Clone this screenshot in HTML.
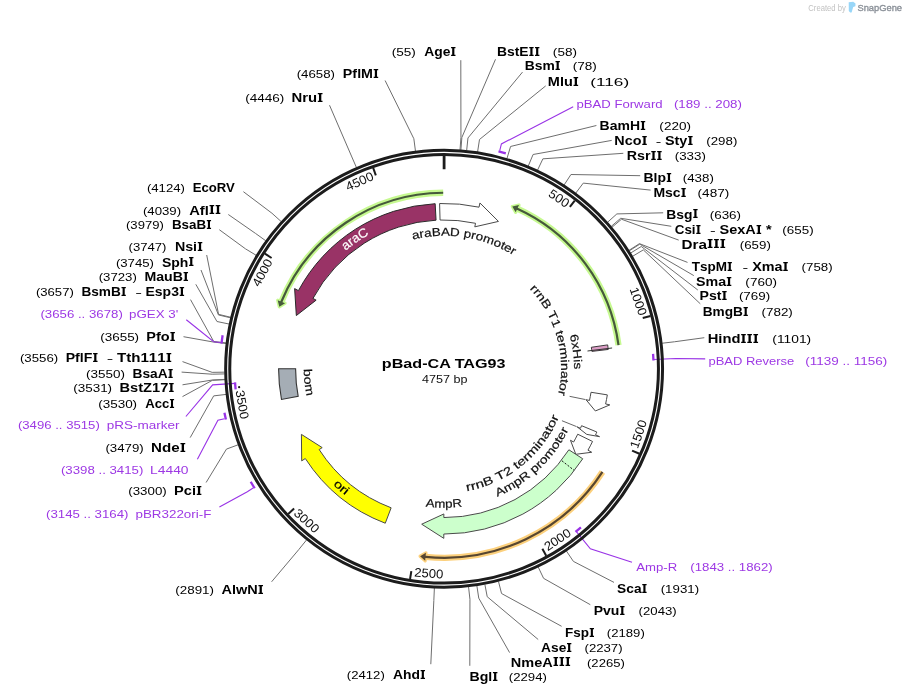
<!DOCTYPE html>
<html><head><meta charset="utf-8"><style>
html,body{margin:0;padding:0;background:#fff;}
svg{display:block;font-family:"Liberation Sans",sans-serif;will-change:transform;}
</style></head><body>
<svg width="906" height="696" viewBox="0 0 906 696">
<rect width="906" height="696" fill="#fff"/>
<line x1="444.1" y1="155.75" x2="444.1" y2="169.25" stroke="#1c1c1c" stroke-width="2.8"/>
<line x1="574.76" y1="200.54" x2="569.86" y2="206.85" stroke="#1c1c1c" stroke-width="2"/>
<g transform="translate(556.66,201.86) rotate(34)"><text x="0" y="0" text-anchor="middle" font-size="12.5" fill="#111" textLength="21.84" lengthAdjust="spacingAndGlyphs">500</text></g>
<line x1="650.48" y1="316.06" x2="642.73" y2="318.04" stroke="#1c1c1c" stroke-width="2"/>
<g transform="translate(634.25,302.68) rotate(70.84)"><text x="0" y="0" text-anchor="middle" font-size="12.5" fill="#111" textLength="29.12" lengthAdjust="spacingAndGlyphs">1000</text></g>
<line x1="639.41" y1="453.74" x2="632.07" y2="450.55" stroke="#1c1c1c" stroke-width="2"/>
<g transform="translate(642.48,435.47) rotate(-71.41)"><text x="0" y="0" text-anchor="middle" font-size="12.5" fill="#111" textLength="29.12" lengthAdjust="spacingAndGlyphs">1500</text></g>
<line x1="546.21" y1="555.68" x2="542.37" y2="548.66" stroke="#1c1c1c" stroke-width="2"/>
<g transform="translate(559.84,543.14) rotate(-33.57)"><text x="0" y="0" text-anchor="middle" font-size="12.5" fill="#111" textLength="29.12" lengthAdjust="spacingAndGlyphs">2000</text></g>
<line x1="410.06" y1="579.01" x2="411.34" y2="571.12" stroke="#1c1c1c" stroke-width="2"/>
<g transform="translate(428.53,577.47) rotate(4.27)"><text x="0" y="0" text-anchor="middle" font-size="12.5" fill="#111" textLength="29.12" lengthAdjust="spacingAndGlyphs">2500</text></g>
<line x1="288.24" y1="513.92" x2="294.09" y2="508.47" stroke="#1c1c1c" stroke-width="2"/>
<g transform="translate(303.76,524.03) rotate(42.11)"><text x="0" y="0" text-anchor="middle" font-size="12.5" fill="#111" textLength="29.12" lengthAdjust="spacingAndGlyphs">3000</text></g>
<circle cx="239.12" cy="387.14" r="1.1" fill="#1c1c1c"/>
<g transform="translate(238.01,405.29) rotate(79.95)"><text x="0" y="0" text-anchor="middle" font-size="12.5" fill="#111" textLength="29.12" lengthAdjust="spacingAndGlyphs">3500</text></g>
<line x1="264.88" y1="253.64" x2="271.61" y2="257.97" stroke="#1c1c1c" stroke-width="2"/>
<g transform="translate(266.15,274.64) rotate(-62.13)"><text x="0" y="0" text-anchor="middle" font-size="12.5" fill="#111" textLength="29.12" lengthAdjust="spacingAndGlyphs">4000</text></g>
<line x1="373.18" y1="167.9" x2="375.84" y2="175.45" stroke="#1c1c1c" stroke-width="2"/>
<g transform="translate(361.3,185.27) rotate(-24.29)"><text x="0" y="0" text-anchor="middle" font-size="12.5" fill="#111" textLength="29.12" lengthAdjust="spacingAndGlyphs">4500</text></g>
<path d="M443.18,192.75A176,176 0 0 0 281.37,301.71" fill="none" stroke="#c6f990" stroke-width="6.3" stroke-linecap="butt"/>
<path d="M285.07,303.23L279.35,306.83L277.67,300.18Z" fill="#c6f990" stroke="#c6f990" stroke-width="3.2" stroke-linejoin="round"/>
<path d="M443.18,192.75A176,176 0 0 0 281.37,301.71L280.34,304.26" fill="none" stroke="#46593b" stroke-width="2.2"/>
<path d="M285.07,303.23L279.35,306.83L277.67,300.18Z" fill="#46593b" stroke="none"/>
<path d="M618.51,345.17A176,176 0 0 0 517.34,208.71" fill="none" stroke="#c6f990" stroke-width="6.3" stroke-linecap="butt"/>
<path d="M515.67,212.35L512.3,206.5L519,205.08Z" fill="#c6f990" stroke="#c6f990" stroke-width="3.2" stroke-linejoin="round"/>
<path d="M618.51,345.17A176,176 0 0 0 517.34,208.71L514.83,207.59" fill="none" stroke="#46593b" stroke-width="2.2"/>
<path d="M515.67,212.35L512.3,206.5L519,205.08Z" fill="#46593b" stroke="none"/>
<path d="M602.43,471.96A189,189 0 0 1 425.55,556.84" fill="none" stroke="#fcd07c" stroke-width="6.3" stroke-linecap="butt"/>
<path d="M425.94,552.86L420.08,556.22L425.16,560.82Z" fill="#fcd07c" stroke="#fcd07c" stroke-width="3.2" stroke-linejoin="round"/>
<path d="M602.43,471.96A189,189 0 0 1 425.55,556.84L422.81,556.55" fill="none" stroke="#574630" stroke-width="2.2"/>
<path d="M425.94,552.86L420.08,556.22L425.16,560.82Z" fill="#574630" stroke="none"/>
<path d="M435.16,203.69A165.3,165.3 0 0 0 298.42,290.64L294.63,288.61L296.33,315.55L316.13,300.14L312.96,298.43A148.8,148.8 0 0 1 436.05,220.17Z" fill="#993366" stroke="#2a2a2a" stroke-width="1" stroke-linejoin="miter"/>
<path d="M439.6,203.51A165.3,165.3 0 0 1 479.03,207.18L479.94,202.98L498.46,221.41L474.78,226.83L475.55,223.31A148.8,148.8 0 0 0 440.05,220.01Z" fill="#fff" stroke="#4a4a4a" stroke-width="1" stroke-linejoin="miter"/>
<path d="M607.32,394.89A165.3,165.3 0 0 1 605.61,403.96L609.81,404.88L595.36,410.98L585.97,399.68L589.48,400.45A148.8,148.8 0 0 0 591.03,392.28Z" fill="#fff" stroke="#4a4a4a" stroke-width="1" stroke-linejoin="miter"/>
<path d="M596.82,432.01A165.3,165.3 0 0 1 595.57,434.93L599.52,436.65L586.78,434.38L577.16,426.88L580.45,428.32A148.8,148.8 0 0 0 581.57,425.69Z" fill="#fff" stroke="#4a4a4a" stroke-width="1" stroke-linejoin="miter"/>
<path d="M592.54,441.47A165.3,165.3 0 0 1 587.97,450.15L591.71,452.27L575.81,454.29L570.48,440.25L573.61,442.02A148.8,148.8 0 0 0 577.73,434.21Z" fill="#fff" stroke="#4a4a4a" stroke-width="1" stroke-linejoin="miter"/>
<path d="M582.73,458.78A165.3,165.3 0 0 1 443.81,534.05L443.8,538.35L421.7,524.19L443.85,513.95L443.84,517.55A148.8,148.8 0 0 0 568.89,449.79Z" fill="#ccffcc" stroke="#4a4a4a" stroke-width="1" stroke-linejoin="miter"/>
<line x1="561.91" y1="460.79" x2="574.12" y2="470.33" stroke="#111" stroke-width="1" stroke-dasharray="2,1.6"/>
<path d="M385.27,523.23A165.3,165.3 0 0 1 305.31,458.54L301.7,460.87L301.42,434.38L322.19,447.62L319.16,449.57A148.8,148.8 0 0 0 391.14,507.81Z" fill="#ffff00" stroke="#4a4a4a" stroke-width="1" stroke-linejoin="miter"/>
<path d="M281.48,399.48A165.5,165.5 0 0 1 278.6,368.75L295.6,368.75A148.5,148.5 0 0 0 298.18,396.32Z" fill="#a5adb5" stroke="#333" stroke-width="1.1" stroke-linejoin="miter"/>
<path d="M607.67,344.89A165.3,165.3 0 0 1 608.27,349.46L591.88,351.39A148.8,148.8 0 0 0 591.34,347.27Z" fill="#dc9ec6" stroke="#2a2a2a" stroke-width="0.9" stroke-linejoin="miter"/>
<line x1="587.51" y1="351.01" x2="612.12" y2="347.97" stroke="#333" stroke-width="1"/>
<polyline points="569.6,396.34 585.38,399.55" fill="none" stroke="#666" stroke-width="1"/>
<polyline points="561.95,420.73 576.61,426.64" fill="none" stroke="#666" stroke-width="1"/>
<path id="cp0" d="M311.4,291.2A153.7,153.7 0 0 1 419,217.11" fill="none" stroke="none"/>
<text font-size="12.8" font-weight="normal" fill="#fff" stroke="#fff" stroke-width="0.2"><textPath href="#cp0" startOffset="53.12" textLength="28.66" lengthAdjust="spacingAndGlyphs">araC</textPath></text>
<path id="cp1" d="M370.89,257.72A133,133 0 0 1 547.9,285.59" fill="none" stroke="none"/>
<text font-size="11.5" font-weight="normal" fill="#111" stroke="#111" stroke-width="0.2"><textPath href="#cp1" startOffset="45.89" textLength="104.52" lengthAdjust="spacingAndGlyphs">araBAD promoter</textPath></text>
<path id="cp2" d="M497.76,264.78A117,117 0 0 1 542.45,432.13" fill="none" stroke="none"/>
<text font-size="11.5" font-weight="normal" fill="#111" stroke="#111" stroke-width="0.2"><textPath href="#cp2" startOffset="39.92" textLength="114.47" lengthAdjust="spacingAndGlyphs">rrnB T1 terminator</textPath></text>
<path id="cp3" d="M551.11,294.93A130,130 0 0 1 566.26,413.21" fill="none" stroke="none"/>
<text font-size="11.5" font-weight="normal" fill="#111" stroke="#111" stroke-width="0.2"><textPath href="#cp3" startOffset="44.69" textLength="34.3" lengthAdjust="spacingAndGlyphs">6xHis</textPath></text>
<path id="cp4" d="M424.62,491.72A124.5,124.5 0 0 0 568.44,375.05" fill="none" stroke="none"/>
<text font-size="11.5" font-weight="normal" fill="#111" stroke="#111" stroke-width="0.2"><textPath href="#cp4" startOffset="42.47" textLength="123.13" lengthAdjust="spacingAndGlyphs">rrnB T2 terminator</textPath></text>
<path id="cp5" d="M450.38,507.11A138.5,138.5 0 0 0 581.79,383.71" fill="none" stroke="none"/>
<text font-size="11.5" font-weight="normal" fill="#111" stroke="#111" stroke-width="0.2"><textPath href="#cp5" startOffset="48.35" textLength="99.85" lengthAdjust="spacingAndGlyphs">AmpR promoter</textPath></text>
<path id="cp6" d="M379.49,491.82A139,139 0 0 0 507.64,492.38" fill="none" stroke="none"/>
<text font-size="11.5" font-weight="normal" fill="#111" stroke="#111" stroke-width="0.2"><textPath href="#cp6" startOffset="48.52" textLength="36.79" lengthAdjust="spacingAndGlyphs">AmpR</textPath></text>
<path id="cp7" d="M300.4,440.24A160.5,160.5 0 0 0 393.7,521.13" fill="none" stroke="none"/>
<text font-size="11.5" font-weight="normal" fill="#000" stroke="#000" stroke-width="0.2"><textPath href="#cp7" startOffset="55.44" textLength="16.26" lengthAdjust="spacingAndGlyphs">ori</textPath></text>
<path id="cp8" d="M311.94,321.95A140.2,140.2 0 0 0 323.8,440.75" fill="none" stroke="none"/>
<text font-size="11.5" font-weight="normal" fill="#111" stroke="#111" stroke-width="0.2"><textPath href="#cp8" startOffset="48.03" textLength="27.28" lengthAdjust="spacingAndGlyphs">bom</textPath></text>
<polyline points="415.48,151.12 413.85,138.73 385.1,80.5" fill="none" stroke="#6e6e6e" stroke-width="1"/>
<polyline points="356.45,167.51 351.46,156.05 329.5,105.2" fill="none" stroke="#6e6e6e" stroke-width="1"/>
<polyline points="460.03,149.83 460.94,137.36 460.8,60.2" fill="none" stroke="#6e6e6e" stroke-width="1"/>
<polyline points="281.23,221.6 271.95,213.22 243.4,191.7" fill="none" stroke="#6e6e6e" stroke-width="1"/>
<polyline points="265.77,240.78 255.61,233.49 228.3,214.5" fill="none" stroke="#6e6e6e" stroke-width="1"/>
<polyline points="256.19,255.3 245.49,248.84 219.3,229.7" fill="none" stroke="#6e6e6e" stroke-width="1"/>
<polyline points="230.72,317.27 218.57,314.33 206.7,255" fill="none" stroke="#6e6e6e" stroke-width="1"/>
<polyline points="230.59,317.83 218.43,314.93 201,270" fill="none" stroke="#6e6e6e" stroke-width="1"/>
<polyline points="229.2,324.05 216.96,321.51 195.8,284.3" fill="none" stroke="#6e6e6e" stroke-width="1"/>
<polyline points="226.12,342.93 213.71,341.46 190.5,299.6" fill="none" stroke="#6e6e6e" stroke-width="1"/>
<polyline points="226.06,343.51 213.64,342.07 183.5,336.7" fill="none" stroke="#6e6e6e" stroke-width="1"/>
<polyline points="224.63,372.16 212.13,372.35 182.5,361.6" fill="none" stroke="#6e6e6e" stroke-width="1"/>
<polyline points="224.66,373.9 212.16,374.19 181.6,372.1" fill="none" stroke="#6e6e6e" stroke-width="1"/>
<polyline points="224.86,379.4 212.37,380.01 182.5,384.8" fill="none" stroke="#6e6e6e" stroke-width="1"/>
<polyline points="224.87,379.69 212.39,380.31 182.5,396.6" fill="none" stroke="#6e6e6e" stroke-width="1"/>
<polyline points="226.11,394.42 213.69,395.88 190.2,437.6" fill="none" stroke="#6e6e6e" stroke-width="1"/>
<polyline points="238.18,444.77 226.46,449.1 206.1,482.5" fill="none" stroke="#6e6e6e" stroke-width="1"/>
<polyline points="306.61,539.85 298.78,549.59 271.6,581.8" fill="none" stroke="#6e6e6e" stroke-width="1"/>
<polyline points="434.39,588.04 433.84,600.52 430.8,664.2" fill="none" stroke="#6e6e6e" stroke-width="1"/>
<polyline points="460.9,149.89 461.86,137.43 495.5,59.3" fill="none" stroke="#6e6e6e" stroke-width="1"/>
<polyline points="466.67,150.41 467.96,137.98 522.5,72.1" fill="none" stroke="#6e6e6e" stroke-width="1"/>
<polyline points="477.6,151.82 479.51,139.47 545.7,85.9" fill="none" stroke="#6e6e6e" stroke-width="1"/>
<polyline points="506.99,158.45 510.57,146.48 596.4,125.5" fill="none" stroke="#6e6e6e" stroke-width="1"/>
<polyline points="528.28,166.03 533.08,154.49 611.7,140.4" fill="none" stroke="#6e6e6e" stroke-width="1"/>
<polyline points="537.56,170.14 542.88,158.83 623.3,153.3" fill="none" stroke="#6e6e6e" stroke-width="1"/>
<polyline points="564.12,184.97 570.95,174.5 640.2,175.7" fill="none" stroke="#6e6e6e" stroke-width="1"/>
<polyline points="575.75,193.12 583.25,183.11 650.6,190.1" fill="none" stroke="#6e6e6e" stroke-width="1"/>
<polyline points="607.56,222.25 616.86,213.91 663.2,212.8" fill="none" stroke="#6e6e6e" stroke-width="1"/>
<polyline points="611.18,226.4 620.7,218.29 671.3,226.3" fill="none" stroke="#6e6e6e" stroke-width="1"/>
<polyline points="611.93,227.28 621.49,219.23 678.7,240.1" fill="none" stroke="#6e6e6e" stroke-width="1"/>
<polyline points="628.94,250.37 639.47,243.63 687.5,262.4" fill="none" stroke="#6e6e6e" stroke-width="1"/>
<polyline points="629.26,250.86 639.8,244.15 693.8,275.6" fill="none" stroke="#6e6e6e" stroke-width="1"/>
<polyline points="630.64,253.07 641.27,246.48 697.8,290" fill="none" stroke="#6e6e6e" stroke-width="1"/>
<polyline points="632.6,256.29 643.34,249.89 700.3,303.8" fill="none" stroke="#6e6e6e" stroke-width="1"/>
<polyline points="662.11,343.22 674.53,341.77 704.3,337.7" fill="none" stroke="#6e6e6e" stroke-width="1"/>
<polyline points="566.42,551.01 573.38,561.39 614,582.4" fill="none" stroke="#6e6e6e" stroke-width="1"/>
<polyline points="538.22,567.05 543.58,578.34 590.3,604.7" fill="none" stroke="#6e6e6e" stroke-width="1"/>
<polyline points="498.47,581.41 501.56,593.52 561.6,626.3" fill="none" stroke="#6e6e6e" stroke-width="1"/>
<polyline points="484.89,584.43 487.21,596.71 538.2,639.5" fill="none" stroke="#6e6e6e" stroke-width="1"/>
<polyline points="476.88,585.79 478.75,598.15 509.6,652.6" fill="none" stroke="#6e6e6e" stroke-width="1"/>
<polyline points="468.55,586.88 469.94,599.31 469.8,665.8" fill="none" stroke="#6e6e6e" stroke-width="1"/>
<polyline points="499.74,150.53 501.42,143.94 573.2,106.7" fill="none" stroke="#9933e6" stroke-width="1.1"/>
<path d="M498.49,151.45A224,224 0 0 1 505.81,153.42" fill="none" stroke="#9933e6" stroke-width="2.3"/>
<polyline points="653.4,359.55 675.88,358.56 705.2,358.9" fill="none" stroke="#9933e6" stroke-width="1.1"/>
<path d="M653.08,353.94A209.5,209.5 0 0 1 653.44,360.47" fill="none" stroke="#9933e6" stroke-width="2.3"/>
<polyline points="576.19,531.36 590.38,548.82 632,562.3" fill="none" stroke="#9933e6" stroke-width="1.1"/>
<path d="M580.92,527.4A209.5,209.5 0 0 1 575.48,531.93" fill="none" stroke="#9933e6" stroke-width="2.3"/>
<polyline points="220.43,342.56 213.67,341.77 186.3,319.7" fill="none" stroke="#9933e6" stroke-width="1.1"/>
<path d="M221.51,343.67A224,224 0 0 1 222.61,335.28" fill="none" stroke="#9933e6" stroke-width="2.3"/>
<polyline points="235.11,383.33 212.66,384.9 185.9,416.5" fill="none" stroke="#9933e6" stroke-width="1.1"/>
<path d="M235.63,389.48A209.5,209.5 0 0 1 235.05,382.42" fill="none" stroke="#9933e6" stroke-width="2.3"/>
<polyline points="224.54,418.82 217.91,420.33 197.4,459.2" fill="none" stroke="#9933e6" stroke-width="1.1"/>
<path d="M225.93,419.51A224,224 0 0 1 224.45,412.68" fill="none" stroke="#9933e6" stroke-width="2.3"/>
<polyline points="253.1,488.06 247.34,491.67 219.4,507.1" fill="none" stroke="#9933e6" stroke-width="1.1"/>
<path d="M254.64,488.26A224,224 0 0 1 250.71,481.78" fill="none" stroke="#9933e6" stroke-width="2.3"/>
<circle cx="444.1" cy="368.75" r="218.45" fill="none" stroke="#1c1c1c" stroke-width="3.0"/>
<circle cx="444.1" cy="368.75" r="214.35" fill="none" stroke="#1c1c1c" stroke-width="3.0"/>
<text x="296.71" y="77.9" font-size="11.5" font-weight="normal" fill="#000" textLength="38.3" lengthAdjust="spacingAndGlyphs">(4658)</text>
<g transform="matrix(1.15,0,0,1,342.87,77.9)" fill="#000"><text x="0 8.27 12.4 15.85" y="0" font-size="12.4" font-weight="bold">PflM</text><path d="M26.8,-8.9h3.91v1.34h-0.99v6.32h0.99v1.34h-3.91v-1.34h0.99v-6.32h-0.99z"/></g>
<text x="245.19" y="101.5" font-size="11.5" font-weight="normal" fill="#000" textLength="39.03" lengthAdjust="spacingAndGlyphs">(4446)</text>
<g transform="matrix(1.2,0,0,1,291.43,101.5)" fill="#000"><text x="0 8.96 13.78" y="0" font-size="12.4" font-weight="bold">Nru</text><path d="M21.98,-8.5h3.91v1.34h-0.99v6.32h0.99v1.34h-3.91v-1.34h0.99v-6.32h-0.99z"/></g>
<text x="391.68" y="56.2" font-size="11.5" font-weight="normal" fill="#000" textLength="24.18" lengthAdjust="spacingAndGlyphs">(55)</text>
<g transform="matrix(1.12,0,0,1,424.15,56.2)" fill="#000"><text x="0 8.96 16.53" y="0" font-size="12.4" font-weight="bold">Age</text><path d="M24.05,-9.2h3.91v1.34h-0.99v6.32h0.99v1.34h-3.91v-1.34h0.99v-6.32h-0.99z"/></g>
<text x="146.91" y="191.8" font-size="11.5" font-weight="normal" fill="#000" textLength="38.09" lengthAdjust="spacingAndGlyphs">(4124)</text>
<text x="192.65" y="191.8" font-size="12.4" font-weight="bold" fill="#000" textLength="42.12" lengthAdjust="spacingAndGlyphs">EcoRV</text>
<text x="142.91" y="214.5" font-size="11.5" font-weight="normal" fill="#000" textLength="38.2" lengthAdjust="spacingAndGlyphs">(4039)</text>
<g transform="matrix(1.19,0,0,1,189.13,214.5)" fill="#000"><text x="0 8.96 13.08" y="0" font-size="12.4" font-weight="bold">Afl</text><path d="M17.15,-9.5h3.91v1.34h-0.99v6.32h0.99v1.34h-3.91v-1.34h0.99v-6.32h-0.99zM22.3,-9.5h3.91v1.34h-0.99v6.32h0.99v1.34h-3.91v-1.34h0.99v-6.32h-0.99z"/></g>
<text x="126.02" y="229.4" font-size="11.5" font-weight="normal" fill="#000" textLength="37.78" lengthAdjust="spacingAndGlyphs">(3979)</text>
<g transform="matrix(1.08,0,0,1,171.93,229.4)" fill="#000"><text x="0 8.96 15.85 22.75" y="0" font-size="12.4" font-weight="bold">BsaB</text><path d="M32.32,-9.4h3.91v1.34h-0.99v6.32h0.99v1.34h-3.91v-1.34h0.99v-6.32h-0.99z"/></g>
<text x="128.61" y="251.3" font-size="11.5" font-weight="normal" fill="#000" textLength="37.88" lengthAdjust="spacingAndGlyphs">(3747)</text>
<g transform="matrix(1.15,0,0,1,174.88,251.3)" fill="#000"><text x="0 8.96 15.85" y="0" font-size="12.4" font-weight="bold">Nsi</text><path d="M19.92,-9.3h3.91v1.34h-0.99v6.32h0.99v1.34h-3.91v-1.34h0.99v-6.32h-0.99z"/></g>
<text x="115.91" y="266.5" font-size="11.5" font-weight="normal" fill="#000" textLength="38.09" lengthAdjust="spacingAndGlyphs">(3745)</text>
<g transform="matrix(1.13,0,0,1,161.88,266.5)" fill="#000"><text x="0 8.27 15.85" y="0" font-size="12.4" font-weight="bold">Sph</text><path d="M24.04,-9.5h3.91v1.34h-0.99v6.32h0.99v1.34h-3.91v-1.34h0.99v-6.32h-0.99z"/></g>
<text x="98.71" y="281.4" font-size="11.5" font-weight="normal" fill="#000" textLength="38.09" lengthAdjust="spacingAndGlyphs">(3723)</text>
<g transform="matrix(1.14,0,0,1,144.38,281.4)" fill="#000"><text x="0 10.33 17.23 24.8" y="0" font-size="12.4" font-weight="bold">MauB</text><path d="M34.38,-9.4h3.91v1.34h-0.99v6.32h0.99v1.34h-3.91v-1.34h0.99v-6.32h-0.99z"/></g>
<text x="35.91" y="296.4" font-size="11.5" font-weight="normal" fill="#000" textLength="37.88" lengthAdjust="spacingAndGlyphs">(3657)</text>
<g transform="matrix(1.1,0,0,1,81.41,296.4)" fill="#000"><text x="0 8.96 15.85 26.88" y="0" font-size="12.4" font-weight="bold">BsmB</text><path d="M36.45,-9.4h3.91v1.34h-0.99v6.32h0.99v1.34h-3.91v-1.34h0.99v-6.32h-0.99z"/></g>
<text x="135.18" y="296.4" font-size="11.5" font-weight="normal" fill="#000" textLength="6.8" lengthAdjust="spacingAndGlyphs">-</text>
<g transform="matrix(1.13,0,0,1,145.49,296.4)" fill="#000"><text x="0 8.27 15.17 22.74" y="0" font-size="12.4" font-weight="bold">Esp3</text><path d="M30.26,-9.4h3.91v1.34h-0.99v6.32h0.99v1.34h-3.91v-1.34h0.99v-6.32h-0.99z"/></g>
<text x="100.19" y="340.8" font-size="11.5" font-weight="normal" fill="#000" textLength="38.93" lengthAdjust="spacingAndGlyphs">(3655)</text>
<g transform="matrix(1.17,0,0,1,146.25,340.8)" fill="#000"><text x="0 8.27 12.4" y="0" font-size="12.4" font-weight="bold">Pfo</text><path d="M20.6,-8.8h3.91v1.34h-0.99v6.32h0.99v1.34h-3.91v-1.34h0.99v-6.32h-0.99z"/></g>
<text x="19.91" y="362.3" font-size="11.5" font-weight="normal" fill="#000" textLength="38.3" lengthAdjust="spacingAndGlyphs">(3556)</text>
<g transform="matrix(1.14,0,0,1,65.68,362.3)" fill="#000"><text x="0 8.27 12.4 15.85" y="0" font-size="12.4" font-weight="bold">PflF</text><path d="M24.04,-9.3h3.91v1.34h-0.99v6.32h0.99v1.34h-3.91v-1.34h0.99v-6.32h-0.99z"/></g>
<text x="106.82" y="362.3" font-size="11.5" font-weight="normal" fill="#000" textLength="6.52" lengthAdjust="spacingAndGlyphs">-</text>
<g transform="matrix(1.22,0,0,1,116.95,362.3)" fill="#000"><text x="0 7.57 11.7 19.28 26.18 33.07" y="0" font-size="12.4" font-weight="bold">Tth111</text><path d="M40.59,-9.3h3.91v1.34h-0.99v6.32h0.99v1.34h-3.91v-1.34h0.99v-6.32h-0.99z"/></g>
<text x="86.09" y="378.1" font-size="11.5" font-weight="normal" fill="#000" textLength="38.93" lengthAdjust="spacingAndGlyphs">(3550)</text>
<g transform="matrix(1.11,0,0,1,132.51,378.1)" fill="#000"><text x="0 8.96 15.85 22.75" y="0" font-size="12.4" font-weight="bold">BsaA</text><path d="M32.32,-9.1h3.91v1.34h-0.99v6.32h0.99v1.34h-3.91v-1.34h0.99v-6.32h-0.99z"/></g>
<text x="73.19" y="392.4" font-size="11.5" font-weight="normal" fill="#000" textLength="38.93" lengthAdjust="spacingAndGlyphs">(3531)</text>
<g transform="matrix(1.18,0,0,1,119.55,392.4)" fill="#000"><text x="0 8.96 15.85 19.98 27.56 34.45" y="0" font-size="12.4" font-weight="bold">BstZ17</text><path d="M41.97,-9.4h3.91v1.34h-0.99v6.32h0.99v1.34h-3.91v-1.34h0.99v-6.32h-0.99z"/></g>
<text x="98.19" y="407.6" font-size="11.5" font-weight="normal" fill="#000" textLength="38.93" lengthAdjust="spacingAndGlyphs">(3530)</text>
<g transform="matrix(1.06,0,0,1,145.17,407.6)" fill="#000"><text x="0 8.96 15.85" y="0" font-size="12.4" font-weight="bold">Acc</text><path d="M23.37,-8.6h3.91v1.34h-0.99v6.32h0.99v1.34h-3.91v-1.34h0.99v-6.32h-0.99z"/></g>
<text x="105.41" y="451.5" font-size="11.5" font-weight="normal" fill="#000" textLength="38.3" lengthAdjust="spacingAndGlyphs">(3479)</text>
<g transform="matrix(1.22,0,0,1,151.12,451.5)" fill="#000"><text x="0 8.96 16.53" y="0" font-size="12.4" font-weight="bold">Nde</text><path d="M24.05,-8.5h3.91v1.34h-0.99v6.32h0.99v1.34h-3.91v-1.34h0.99v-6.32h-0.99z"/></g>
<text x="128.3" y="495.4" font-size="11.5" font-weight="normal" fill="#000" textLength="38.4" lengthAdjust="spacingAndGlyphs">(3300)</text>
<g transform="matrix(1.18,0,0,1,174.05,495.4)" fill="#000"><text x="0 8.27 15.17" y="0" font-size="12.4" font-weight="bold">Pci</text><path d="M19.23,-9.4h3.91v1.34h-0.99v6.32h0.99v1.34h-3.91v-1.34h0.99v-6.32h-0.99z"/></g>
<text x="175.3" y="594.3" font-size="11.5" font-weight="normal" fill="#000" textLength="38.72" lengthAdjust="spacingAndGlyphs">(2891)</text>
<g transform="matrix(1.17,0,0,1,221.44,594.3)" fill="#000"><text x="0 8.96 12.4 22.04" y="0" font-size="12.4" font-weight="bold">AlwN</text><path d="M31.62,-9.3h3.91v1.34h-0.99v6.32h0.99v1.34h-3.91v-1.34h0.99v-6.32h-0.99z"/></g>
<text x="346.81" y="679.2" font-size="11.5" font-weight="normal" fill="#000" textLength="37.99" lengthAdjust="spacingAndGlyphs">(2412)</text>
<g transform="matrix(1.12,0,0,1,392.95,679.2)" fill="#000"><text x="0 8.96 16.53" y="0" font-size="12.4" font-weight="bold">Ahd</text><path d="M24.72,-9.2h3.91v1.34h-0.99v6.32h0.99v1.34h-3.91v-1.34h0.99v-6.32h-0.99z"/></g>
<g transform="matrix(1.12,0,0,1,496.9,55.8)" fill="#000"><text x="0 8.96 15.85 19.98" y="0" font-size="12.4" font-weight="bold">BstE</text><path d="M28.87,-8.8h3.91v1.34h-0.99v6.32h0.99v1.34h-3.91v-1.34h0.99v-6.32h-0.99zM34.02,-8.8h3.91v1.34h-0.99v6.32h0.99v1.34h-3.91v-1.34h0.99v-6.32h-0.99z"/></g>
<text x="552.89" y="55.8" font-size="11.5" font-weight="normal" fill="#000" textLength="24.07" lengthAdjust="spacingAndGlyphs">(58)</text>
<g transform="matrix(1.12,0,0,1,524.7,70.4)" fill="#000"><text x="0 8.96 15.85" y="0" font-size="12.4" font-weight="bold">Bsm</text><path d="M27.5,-9.4h3.91v1.34h-0.99v6.32h0.99v1.34h-3.91v-1.34h0.99v-6.32h-0.99z"/></g>
<text x="572.69" y="70.4" font-size="11.5" font-weight="normal" fill="#000" textLength="24.07" lengthAdjust="spacingAndGlyphs">(78)</text>
<g transform="matrix(1.17,0,0,1,547.86,85.9)" fill="#000"><text x="0 10.33 13.77" y="0" font-size="12.4" font-weight="bold">Mlu</text><path d="M21.97,-8.9h3.91v1.34h-0.99v6.32h0.99v1.34h-3.91v-1.34h0.99v-6.32h-0.99z"/></g>
<text x="590.27" y="85.9" font-size="11.5" font-weight="normal" fill="#000" textLength="38.86" lengthAdjust="spacingAndGlyphs">(116)</text>
<g transform="matrix(1.13,0,0,1,599.59,129.6)" fill="#000"><text x="0 8.96 15.85 26.88" y="0" font-size="12.4" font-weight="bold">BamH</text><path d="M36.45,-8.6h3.91v1.34h-0.99v6.32h0.99v1.34h-3.91v-1.34h0.99v-6.32h-0.99z"/></g>
<text x="659.39" y="129.6" font-size="11.5" font-weight="normal" fill="#000" textLength="31.59" lengthAdjust="spacingAndGlyphs">(220)</text>
<g transform="matrix(1.16,0,0,1,614.36,145)" fill="#000"><text x="0 8.96 15.85" y="0" font-size="12.4" font-weight="bold">Nco</text><path d="M24.05,-9h3.91v1.34h-0.99v6.32h0.99v1.34h-3.91v-1.34h0.99v-6.32h-0.99z"/></g>
<text x="655.75" y="145" font-size="11.5" font-weight="normal" fill="#000" textLength="5.57" lengthAdjust="spacingAndGlyphs">-</text>
<g transform="matrix(1.16,0,0,1,664.97,145)" fill="#000"><text x="0 8.27 12.4" y="0" font-size="12.4" font-weight="bold">Sty</text><path d="M19.92,-9h3.91v1.34h-0.99v6.32h0.99v1.34h-3.91v-1.34h0.99v-6.32h-0.99z"/></g>
<text x="706.3" y="145" font-size="11.5" font-weight="normal" fill="#000" textLength="31.06" lengthAdjust="spacingAndGlyphs">(298)</text>
<g transform="matrix(1.15,0,0,1,626.77,159.5)" fill="#000"><text x="0 8.96 15.85" y="0" font-size="12.4" font-weight="bold">Rsr</text><path d="M21.3,-8.5h3.91v1.34h-0.99v6.32h0.99v1.34h-3.91v-1.34h0.99v-6.32h-0.99zM26.44,-8.5h3.91v1.34h-0.99v6.32h0.99v1.34h-3.91v-1.34h0.99v-6.32h-0.99z"/></g>
<text x="674.8" y="159.5" font-size="11.5" font-weight="normal" fill="#000" textLength="31.06" lengthAdjust="spacingAndGlyphs">(333)</text>
<g transform="matrix(1.13,0,0,1,643.49,182)" fill="#000"><text x="0 8.96 12.4" y="0" font-size="12.4" font-weight="bold">Blp</text><path d="M20.59,-9h3.91v1.34h-0.99v6.32h0.99v1.34h-3.91v-1.34h0.99v-6.32h-0.99z"/></g>
<text x="682.8" y="182" font-size="11.5" font-weight="normal" fill="#000" textLength="31.06" lengthAdjust="spacingAndGlyphs">(438)</text>
<g transform="matrix(1.13,0,0,1,653.39,196.8)" fill="#000"><text x="0 10.33 17.23" y="0" font-size="12.4" font-weight="bold">Msc</text><path d="M24.74,-8.8h3.91v1.34h-0.99v6.32h0.99v1.34h-3.91v-1.34h0.99v-6.32h-0.99z"/></g>
<text x="697.59" y="196.8" font-size="11.5" font-weight="normal" fill="#000" textLength="31.69" lengthAdjust="spacingAndGlyphs">(487)</text>
<g transform="matrix(1.12,0,0,1,666.3,218.5)" fill="#000"><text x="0 8.96 15.85" y="0" font-size="12.4" font-weight="bold">Bsg</text><path d="M24.05,-9.5h3.91v1.34h-0.99v6.32h0.99v1.34h-3.91v-1.34h0.99v-6.32h-0.99z"/></g>
<text x="709.69" y="218.5" font-size="11.5" font-weight="normal" fill="#000" textLength="31.37" lengthAdjust="spacingAndGlyphs">(636)</text>
<g transform="matrix(1.08,0,0,1,674.76,233.6)" fill="#000"><text x="0 8.96 15.85" y="0" font-size="12.4" font-weight="bold">Csi</text><path d="M19.92,-8.6h3.91v1.34h-0.99v6.32h0.99v1.34h-3.91v-1.34h0.99v-6.32h-0.99z"/></g>
<text x="710.13" y="233.6" font-size="11.5" font-weight="normal" fill="#000" textLength="5.71" lengthAdjust="spacingAndGlyphs">-</text>
<g transform="matrix(1.17,0,0,1,719.56,233.6)" fill="#000"><text x="0 8.27 15.17 22.06 39.61" y="0" font-size="12.4" font-weight="bold">SexA*</text><path d="M31.64,-8.6h3.91v1.34h-0.99v6.32h0.99v1.34h-3.91v-1.34h0.99v-6.32h-0.99z"/></g>
<text x="782.29" y="233.6" font-size="11.5" font-weight="normal" fill="#000" textLength="31.37" lengthAdjust="spacingAndGlyphs">(655)</text>
<g transform="matrix(1.23,0,0,1,681.51,248.5)" fill="#000"><text x="0 8.96 13.78" y="0" font-size="12.4" font-weight="bold">Dra</text><path d="M21.3,-9.5h3.91v1.34h-0.99v6.32h0.99v1.34h-3.91v-1.34h0.99v-6.32h-0.99zM26.44,-9.5h3.91v1.34h-0.99v6.32h0.99v1.34h-3.91v-1.34h0.99v-6.32h-0.99zM31.59,-9.5h3.91v1.34h-0.99v6.32h0.99v1.34h-3.91v-1.34h0.99v-6.32h-0.99z"/></g>
<text x="739.8" y="248.5" font-size="11.5" font-weight="normal" fill="#000" textLength="31.06" lengthAdjust="spacingAndGlyphs">(659)</text>
<g transform="matrix(1.09,0,0,1,691.66,270.8)" fill="#000"><text x="0 7.57 14.47 22.05" y="0" font-size="12.4" font-weight="bold">TspM</text><path d="M33,-8.8h3.91v1.34h-0.99v6.32h0.99v1.34h-3.91v-1.34h0.99v-6.32h-0.99z"/></g>
<text x="742.43" y="270.8" font-size="11.5" font-weight="normal" fill="#000" textLength="5.71" lengthAdjust="spacingAndGlyphs">-</text>
<g transform="matrix(1.16,0,0,1,752.16,270.8)" fill="#000"><text x="0 8.27 19.3" y="0" font-size="12.4" font-weight="bold">Xma</text><path d="M26.81,-8.8h3.91v1.34h-0.99v6.32h0.99v1.34h-3.91v-1.34h0.99v-6.32h-0.99z"/></g>
<text x="801.6" y="270.8" font-size="11.5" font-weight="normal" fill="#000" textLength="31.06" lengthAdjust="spacingAndGlyphs">(758)</text>
<g transform="matrix(1.15,0,0,1,695.97,285.6)" fill="#000"><text x="0 8.27 19.3" y="0" font-size="12.4" font-weight="bold">Sma</text><path d="M26.81,-8.6h3.91v1.34h-0.99v6.32h0.99v1.34h-3.91v-1.34h0.99v-6.32h-0.99z"/></g>
<text x="745.39" y="285.6" font-size="11.5" font-weight="normal" fill="#000" textLength="31.59" lengthAdjust="spacingAndGlyphs">(760)</text>
<g transform="matrix(1.14,0,0,1,699.48,300.1)" fill="#000"><text x="0 8.27 15.17" y="0" font-size="12.4" font-weight="bold">Pst</text><path d="M19.92,-9.1h3.91v1.34h-0.99v6.32h0.99v1.34h-3.91v-1.34h0.99v-6.32h-0.99z"/></g>
<text x="738.9" y="300.1" font-size="11.5" font-weight="normal" fill="#000" textLength="31.27" lengthAdjust="spacingAndGlyphs">(769)</text>
<g transform="matrix(1.1,0,0,1,702.71,315.5)" fill="#000"><text x="0 8.96 19.98 27.56" y="0" font-size="12.4" font-weight="bold">BmgB</text><path d="M37.13,-8.5h3.91v1.34h-0.99v6.32h0.99v1.34h-3.91v-1.34h0.99v-6.32h-0.99z"/></g>
<text x="761.49" y="315.5" font-size="11.5" font-weight="normal" fill="#000" textLength="31.37" lengthAdjust="spacingAndGlyphs">(782)</text>
<g transform="matrix(1.19,0,0,1,707.64,343)" fill="#000"><text x="0 8.96 12.4 19.97" y="0" font-size="12.4" font-weight="bold">Hind</text><path d="M28.17,-9h3.91v1.34h-0.99v6.32h0.99v1.34h-3.91v-1.34h0.99v-6.32h-0.99zM33.32,-9h3.91v1.34h-0.99v6.32h0.99v1.34h-3.91v-1.34h0.99v-6.32h-0.99zM38.46,-9h3.91v1.34h-0.99v6.32h0.99v1.34h-3.91v-1.34h0.99v-6.32h-0.99z"/></g>
<text x="772.37" y="343" font-size="11.5" font-weight="normal" fill="#000" textLength="38.77" lengthAdjust="spacingAndGlyphs">(1101)</text>
<g transform="matrix(1.11,0,0,1,617.09,592.8)" fill="#000"><text x="0 8.27 15.17" y="0" font-size="12.4" font-weight="bold">Sca</text><path d="M22.68,-8.8h3.91v1.34h-0.99v6.32h0.99v1.34h-3.91v-1.34h0.99v-6.32h-0.99z"/></g>
<text x="660.7" y="592.8" font-size="11.5" font-weight="normal" fill="#000" textLength="38.4" lengthAdjust="spacingAndGlyphs">(1931)</text>
<g transform="matrix(1.13,0,0,1,593.69,614.6)" fill="#000"><text x="0 8.27 15.17" y="0" font-size="12.4" font-weight="bold">Pvu</text><path d="M23.36,-8.6h3.91v1.34h-0.99v6.32h0.99v1.34h-3.91v-1.34h0.99v-6.32h-0.99z"/></g>
<text x="638.61" y="614.6" font-size="11.5" font-weight="normal" fill="#000" textLength="38.09" lengthAdjust="spacingAndGlyphs">(2043)</text>
<g transform="matrix(1.09,0,0,1,565.02,636.6)" fill="#000"><text x="0 7.57 14.47" y="0" font-size="12.4" font-weight="bold">Fsp</text><path d="M22.67,-8.6h3.91v1.34h-0.99v6.32h0.99v1.34h-3.91v-1.34h0.99v-6.32h-0.99z"/></g>
<text x="606.81" y="636.6" font-size="11.5" font-weight="normal" fill="#000" textLength="37.99" lengthAdjust="spacingAndGlyphs">(2189)</text>
<g transform="matrix(1.11,0,0,1,541.06,651.7)" fill="#000"><text x="0 8.96 15.85" y="0" font-size="12.4" font-weight="bold">Ase</text><path d="M23.37,-8.7h3.91v1.34h-0.99v6.32h0.99v1.34h-3.91v-1.34h0.99v-6.32h-0.99z"/></g>
<text x="584.51" y="651.7" font-size="11.5" font-weight="normal" fill="#000" textLength="38.09" lengthAdjust="spacingAndGlyphs">(2237)</text>
<g transform="matrix(1.17,0,0,1,510.86,666.5)" fill="#000"><text x="0 8.96 19.98 26.88" y="0" font-size="12.4" font-weight="bold">NmeA</text><path d="M36.45,-9.5h3.91v1.34h-0.99v6.32h0.99v1.34h-3.91v-1.34h0.99v-6.32h-0.99zM41.6,-9.5h3.91v1.34h-0.99v6.32h0.99v1.34h-3.91v-1.34h0.99v-6.32h-0.99zM46.74,-9.5h3.91v1.34h-0.99v6.32h0.99v1.34h-3.91v-1.34h0.99v-6.32h-0.99z"/></g>
<text x="587.02" y="666.5" font-size="11.5" font-weight="normal" fill="#000" textLength="37.78" lengthAdjust="spacingAndGlyphs">(2265)</text>
<g transform="matrix(1.14,0,0,1,469.48,681.4)" fill="#000"><text x="0 8.96 16.53" y="0" font-size="12.4" font-weight="bold">Bgl</text><path d="M20.59,-9.4h3.91v1.34h-0.99v6.32h0.99v1.34h-3.91v-1.34h0.99v-6.32h-0.99z"/></g>
<text x="508.81" y="681.4" font-size="11.5" font-weight="normal" fill="#000" textLength="38.09" lengthAdjust="spacingAndGlyphs">(2294)</text>
<text x="576.45" y="107.9" font-size="11.5" font-weight="normal" fill="#9d38e4" textLength="86.15" lengthAdjust="spacingAndGlyphs">pBAD Forward</text>
<text x="673.9" y="107.9" font-size="11.5" font-weight="normal" fill="#9d38e4" textLength="68.06" lengthAdjust="spacingAndGlyphs">(189 .. 208)</text>
<text x="708.46" y="365.2" font-size="11.5" font-weight="normal" fill="#9d38e4" textLength="85.81" lengthAdjust="spacingAndGlyphs">pBAD Reverse</text>
<text x="805.19" y="365.2" font-size="11.5" font-weight="normal" fill="#9d38e4" textLength="82.06" lengthAdjust="spacingAndGlyphs">(1139 .. 1156)</text>
<text x="636.3" y="570.9" font-size="11.5" font-weight="normal" fill="#9d38e4" textLength="40.91" lengthAdjust="spacingAndGlyphs">Amp-R</text>
<text x="690.31" y="570.9" font-size="11.5" font-weight="normal" fill="#9d38e4" textLength="82.41" lengthAdjust="spacingAndGlyphs">(1843 .. 1862)</text>
<text x="40.41" y="318.3" font-size="11.5" font-weight="normal" fill="#9d38e4" textLength="82.41" lengthAdjust="spacingAndGlyphs">(3656 .. 3678)</text>
<text x="129.03" y="318.3" font-size="11.5" font-weight="normal" fill="#9d38e4" textLength="49.27" lengthAdjust="spacingAndGlyphs">pGEX 3'</text>
<text x="17.91" y="428.9" font-size="11.5" font-weight="normal" fill="#9d38e4" textLength="81.9" lengthAdjust="spacingAndGlyphs">(3496 .. 3515)</text>
<text x="106.72" y="428.9" font-size="11.5" font-weight="normal" fill="#9d38e4" textLength="72.85" lengthAdjust="spacingAndGlyphs">pRS-marker</text>
<text x="60.9" y="473.6" font-size="11.5" font-weight="normal" fill="#9d38e4" textLength="82.51" lengthAdjust="spacingAndGlyphs">(3398 .. 3415)</text>
<text x="150.1" y="473.6" font-size="11.5" font-weight="normal" fill="#9d38e4" textLength="38.4" lengthAdjust="spacingAndGlyphs">L4440</text>
<text x="46" y="517.5" font-size="11.5" font-weight="normal" fill="#9d38e4" textLength="82.51" lengthAdjust="spacingAndGlyphs">(3145 .. 3164)</text>
<text x="135.43" y="517.5" font-size="11.5" font-weight="normal" fill="#9d38e4" textLength="76" lengthAdjust="spacingAndGlyphs">pBR322ori-F</text>
<text x="381.85" y="368.2" font-size="12.5" font-weight="bold" fill="#000" textLength="123.65" lengthAdjust="spacingAndGlyphs">pBad-CA TAG93</text>
<text x="421.95" y="382.7" font-size="10.5" font-weight="normal" fill="#111" textLength="45.45" lengthAdjust="spacingAndGlyphs">4757 bp</text>
<text x="808.32" y="10.6" font-size="8.2" font-weight="normal" fill="#c2c2c2" textLength="37.5" lengthAdjust="spacingAndGlyphs">Created by</text>
<text stroke="#8a9098" stroke-width="0.35" x="857.48" y="10.9" font-size="9.6" font-weight="normal" fill="#8a9098" textLength="44.56" lengthAdjust="spacingAndGlyphs">SnapGene</text>
<path d="M848.7,2.2 L853.2,1.8 L855.5,3.4 L855.4,6.3 L853.2,7.0 L851.6,12.6 L850.2,12.6 L848.8,11 Z" fill="#98d6f8"/>
</svg></body></html>
